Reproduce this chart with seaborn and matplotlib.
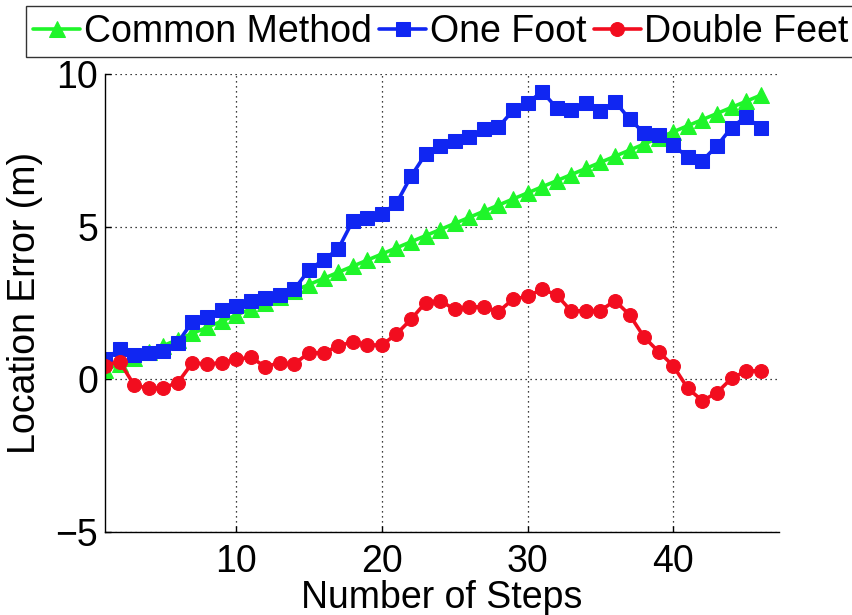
import numpy as np
import pandas as pd
import matplotlib
matplotlib.use("Agg")
import matplotlib.pyplot as plt
import seaborn as sns

steps = list(range(1, 47))

common_method = [0.3, 0.5, 0.7, 0.9, 1.1, 1.3, 1.5, 1.7, 1.9, 2.1,
                 2.3, 2.5, 2.7, 2.9, 3.1, 3.3, 3.5, 3.7, 3.9, 4.1,
                 4.3, 4.5, 4.7, 4.9, 5.1, 5.3, 5.5, 5.7, 5.9, 6.1,
                 6.3, 6.5, 6.7, 6.9, 7.1, 7.3, 7.5, 7.7, 7.9, 8.1,
                 8.3, 8.5, 8.7, 8.9, 9.1, 9.3]

one_foot = [0.65, 0.98, 0.80, 0.85, 0.94, 1.20, 1.89, 2.03, 2.27, 2.41,
            2.57, 2.65, 2.76, 2.95, 3.58, 3.91, 4.26, 5.18, 5.27, 5.41,
            5.76, 6.64, 7.37, 7.65, 7.81, 7.93, 8.19, 8.25, 8.80, 9.04,
            9.42, 8.88, 8.81, 9.04, 8.77, 9.09, 8.52, 8.06, 8.00, 7.67,
            7.26, 7.16, 7.64, 8.24, 8.60, 8.22]

double_feet = [0.45, 0.58, -0.19, -0.30, -0.28, -0.11, 0.54, 0.50, 0.54, 0.65,
               0.72, 0.41, 0.54, 0.50, 0.87, 0.87, 1.08, 1.23, 1.12, 1.12,
               1.48, 1.96, 2.51, 2.57, 2.29, 2.36, 2.38, 2.21, 2.62, 2.71,
               2.95, 2.76, 2.23, 2.25, 2.25, 2.57, 2.11, 1.38, 0.90, 0.44,
               -0.30, -0.70, -0.44, 0.03, 0.27, 0.28]

series_names = ["Common Method", "One Foot", "Double Feet"]
series_colors = ["#1ff52a", "#1026f2", "#f20d1f"]
series_markers = ["^", "s", "o"]
marker_sizes = [11, 9.5, 10]

sns.set_style("white")
plt.rcParams["font.family"] = ["Liberation Sans", "DejaVu Sans"]
plt.rcParams["font.size"] = 27
for key in ["text.color", "axes.labelcolor", "xtick.color", "ytick.color"]:
    plt.rcParams[key] = "black"

df = pd.DataFrame({
    "step": steps * 3,
    "error": common_method + one_foot + double_feet,
    "method": sum([[n] * len(steps) for n in series_names], []),
})

fig = plt.figure(figsize=(8.53, 6.15), dpi=100)
ax = fig.add_axes([0.1231, 0.135, 0.790, 0.745])

for name, color, marker, ms in zip(series_names, series_colors, series_markers, marker_sizes):
    sns.lineplot(data=df[df["method"] == name], x="step", y="error", ax=ax,
                 color=color, marker=marker, markersize=ms, markeredgecolor=color,
                 linewidth=2.6, label=name)

ax.set_xlim(1, 47.25)
ax.set_ylim(-5, 10)
ax.set_xticks([10, 20, 30, 40])
ax.set_yticks([-5, 0, 5, 10])
ax.grid(True, color="black", linestyle=(0, (1, 3)), linewidth=0.9)

for side in ["top", "right"]:
    ax.spines[side].set_visible(False)
for side in ["left", "bottom"]:
    ax.spines[side].set_color("black")
    ax.spines[side].set_linewidth(1.0)

ax.tick_params(axis="x", direction="in", length=4, width=1, pad=9,
               bottom=True, top=False, labelsize=27, colors="black")
ax.tick_params(axis="y", direction="in", length=4, width=1, pad=5,
               left=True, right=False, labelsize=27, colors="black")

ax.set_xlabel("Number of Steps", fontsize=27, labelpad=0, color="black")
ax.set_ylabel("Location Error (m)", fontsize=27, labelpad=9, color="black")

handles, labels = ax.get_legend_handles_labels()
ax.legend_.remove()
leg = fig.legend(handles, labels, loc="upper center", bbox_to_anchor=(0.517, 0.99),
                 ncol=3, fontsize=27, frameon=True, fancybox=False,
                 edgecolor="black", borderpad=0.2, handlelength=1.25,
                 handletextpad=0.1, columnspacing=0.2, borderaxespad=0,
                 labelcolor="black")
leg.get_frame().set_linewidth(1.0)

fig.savefig("out.png", dpi=100)
